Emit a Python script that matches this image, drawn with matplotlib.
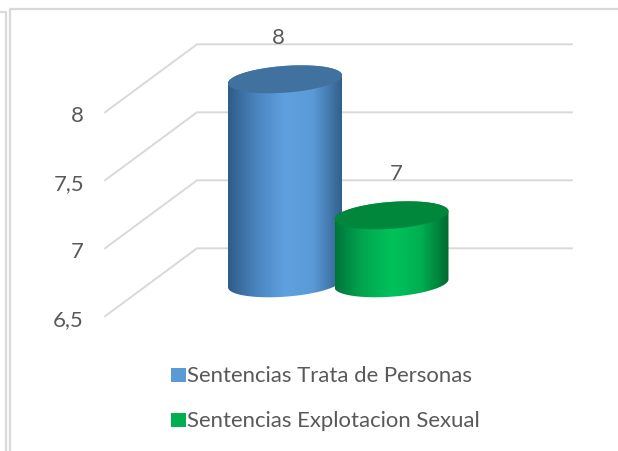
import numpy as np
import matplotlib
matplotlib.use("Agg")
import matplotlib.pyplot as plt
from matplotlib.colors import LinearSegmentedColormap
from matplotlib.patches import Polygon, Rectangle

# datos
series = ["Sentencias Trata de Personas", "Sentencias Explotacion Sexual"]
valores = [8, 7]
ticks = [6.5, 7, 7.5, 8]
tick_labels = ["6,5", "7", "7,5", "8"]

# estilos
lados = [["#2f5c88", "#4a85bf", "#5fa0e0", "#5a9ad8", "#33608c"],
         ["#00753a", "#00a84f", "#00c25b", "#00b052", "#006a30"]]
tapas = ["#41719f", "#00873b"]
leyenda_col = ["#5b9bd5", "#00b050"]
centros_x = [285, 391.5]
texto = "#595959"
fuente = "Lato"
fs = 15.9

PX = 136.0  # pixeles por unidad
y_min = 5.5 + 1.3 / PX
y_max = y_min + 452 / PX
fig = plt.figure(figsize=(6.18, 4.52), dpi=100)
ax = fig.add_axes([0, 0, 1, 1])
ax.axis("off")


def py(v, fondo=0):
    # valor en el eje y, subido fondo pixeles por la perspectiva
    return v + fondo / PX


# rejilla 3d
for t, lab in zip(ticks, tick_labels):
    ax.plot([105, 197, 572], [py(t), py(t, 68), py(t, 68)], color="#d9d9d9", lw=1.4, zorder=1)
    ax.text(84, py(t, -2.5), lab, ha="right", va="center", fontsize=fs, color=texto, family=fuente)

# marcos de la imagen
marco = dict(color="#d9d9d9", lw=1.6, zorder=1, solid_capstyle="butt")
ax.plot([10, 10, 618], [y_min, y_max - 9.5 / PX, y_max - 9.5 / PX], **marco)
ax.plot([0, 6, 6], [y_max - 13 / PX, y_max - 13 / PX, y_min], **marco)

t = np.linspace(0, 2 * np.pi, 200)
a, b, s = 57, 13.4, 4
for i, v in enumerate(valores):
    cx = centros_x[i]
    z = 3 + i
    ex = cx + a * np.cos(t)
    ey = (b * np.sin(t) + s * np.cos(t)) / PX
    arriba = py(v, 33)
    base = py(ticks[0], 33)
    # cuerpo del cilindro con degradado
    cmap = LinearSegmentedColormap.from_list("c%d" % i, lados[i])
    im = ax.imshow(np.linspace(0, 1, 256)[None, :], cmap=cmap, aspect="auto", zorder=z,
                   extent=[cx - a, cx + a, base - 20 / PX, arriba + 20 / PX])
    clip = Polygon(np.column_stack([
        np.r_[cx - a, ex[(t >= np.pi)], cx + a, cx + a, ex[(t <= np.pi)], cx - a],
        np.r_[base + s / PX, base + ey[(t >= np.pi)], base - s / PX, arriba - s / PX, arriba + ey[(t <= np.pi)], arriba + s / PX],
    ]), transform=ax.transData)
    im.set_clip_path(clip)
    ax.add_patch(Polygon(np.column_stack([ex, arriba + ey]), color=tapas[i], lw=0, zorder=z + 0.1))
    ax.text(cx - 7 if i == 0 else cx + 5, arriba + 42.5 / PX, str(v),
            ha="center", va="center", fontsize=fs, color=texto, family=fuente, zorder=6)

ax.set_xlim(0, 618)
ax.set_ylim(y_min, y_max)

# leyenda
for nombre, col, ly in zip(series, leyenda_col, [376, 421]):
    yy = y_min + (452 - ly) / PX
    ax.add_patch(Rectangle((171, yy - 7 / PX), 14.5, 14 / PX, color=col, lw=0))
    ax.text(187, yy - 0.5 / PX, nombre, ha="left", va="center", fontsize=fs, color=texto, family=fuente)

fig.savefig("out.png", dpi=100)
